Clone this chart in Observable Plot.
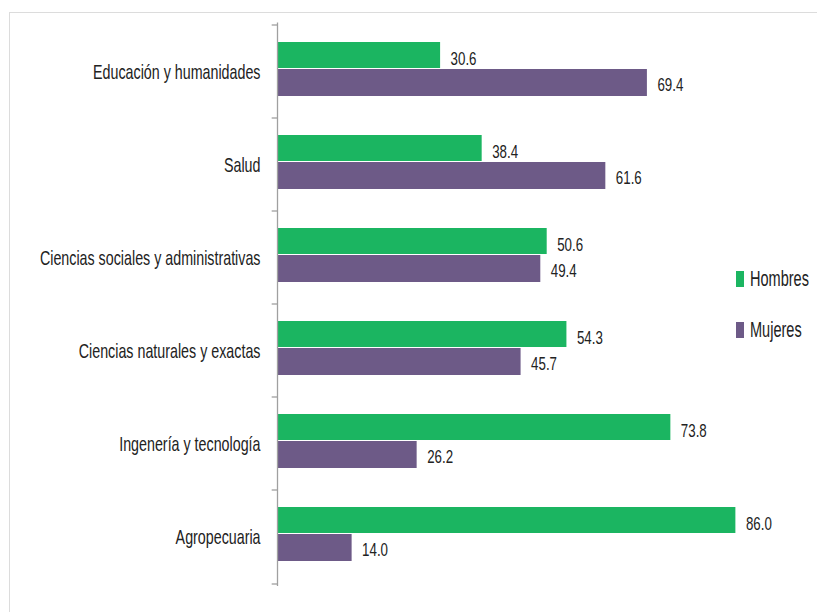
<!DOCTYPE html>
<html><head><meta charset="utf-8">
<script src="https://cdn.jsdelivr.net/npm/d3@7"></script>
<script src="https://cdn.jsdelivr.net/npm/@observablehq/plot@0.6"></script>
<style>
body{margin:0;background:#fff;}
#wrap{position:relative;width:817px;height:612px;overflow:hidden;background:#fff;}
#wrap svg{position:absolute;left:0;top:0;}
#frame{position:absolute;left:9px;top:12px;width:900px;height:700px;border-top:1px solid #dcdcdc;border-left:1px solid #dcdcdc;pointer-events:none;}
.leg{position:absolute;font-family:"Liberation Sans",Arial,sans-serif;font-size:22px;color:#222;height:22px;line-height:22px;white-space:nowrap;}
.sw{position:absolute;left:0;top:3px;width:8px;height:16px;}
.lt{position:absolute;left:14px;top:0;display:inline-block;transform:scaleX(0.66);transform-origin:left center;}
</style></head><body>
<div id="wrap"></div>
<script>
const categories = ["Educación y humanidades", "Salud", "Ciencias sociales y administrativas", "Ciencias naturales y exactas", "Ingenería y tecnología", "Agropecuaria"];
const hombres = [30.6, 38.4, 50.6, 54.3, 73.8, 86.0];
const mujeres = [69.4, 61.6, 49.4, 45.7, 26.2, 14.0];
const seriesNames = ["Hombres", "Mujeres"];
const seriesColors = ["#1bb561", "#6d5a87"];

const tH = categories.map((c, i) => ({cat: c, value: hombres[i]}));
const tM = categories.map((c, i) => ({cat: c, value: mujeres[i]}));
const font = '"Liberation Sans", Arial, sans-serif';

const chart = Plot.plot({
  width: 817,
  height: 612,
  marginLeft: 277,
  marginRight: 7,
  marginTop: 22.5,
  marginBottom: 26,
  style: {fontFamily: font, background: "transparent", color: "#222"},
  x: {domain: [0, 100], axis: null},
  y: {domain: categories, padding: 0, axis: null},
  marks: [
    Plot.barX(tH, {x: "value", y: "cat", fill: seriesColors[0], insetTop: 17, insetBottom: 50}),
    Plot.barX(tM, {x: "value", y: "cat", fill: seriesColors[1], insetTop: 44, insetBottom: 22}),
    Plot.text(tH, {x: "value", y: "cat", text: d => d.value.toFixed(1), dx: 10, dy: -13, textAnchor: "start", fontSize: 19, fill: "#222", className: "vlab"}),
    Plot.text(tM, {x: "value", y: "cat", text: d => d.value.toFixed(1), dx: 10, dy: 13, textAnchor: "start", fontSize: 19, fill: "#222", className: "vlab"}),
    Plot.ruleX([0], {stroke: "#a0a0a0", strokeWidth: 1.3}),
    Plot.ruleY(categories, {y: d => d, x1: -1, x2: 0, dy: -47, stroke: "#a0a0a0", strokeWidth: 1.3}),
    Plot.ruleY([categories[categories.length - 1]], {y: d => d, x1: -1, x2: 0, dy: 47, stroke: "#a0a0a0", strokeWidth: 1.3}),
    Plot.axisY({tickSize: 0, tickPadding: 17, fontSize: 21, fill: "#222", label: null, className: "clab"})
  ]
});

const wrap = document.getElementById("wrap");
wrap.appendChild(chart);
const frame = document.createElement("div");
frame.id = "frame";
wrap.appendChild(frame);

// condense text horizontally to match the narrow look
function condense(sel, f) {
  chart.querySelectorAll(sel).forEach(t => {
    const w = t.getComputedTextLength();
    t.setAttribute("textLength", (w * f).toFixed(1));
    t.setAttribute("lengthAdjust", "spacingAndGlyphs");
  });
}
condense(".vlab text", 0.7);
condense(".clab text", 0.68);

const legTops = [268, 319];
seriesNames.forEach((name, i) => {
  const d = document.createElement("div");
  d.className = "leg";
  d.style.left = "736px";
  d.style.top = legTops[i] + "px";
  const sw = document.createElement("span");
  sw.className = "sw";
  sw.style.background = seriesColors[i];
  const t = document.createElement("span");
  t.className = "lt";
  t.textContent = name;
  d.appendChild(sw);
  d.appendChild(t);
  wrap.appendChild(d);
});
</script>
</body></html>
